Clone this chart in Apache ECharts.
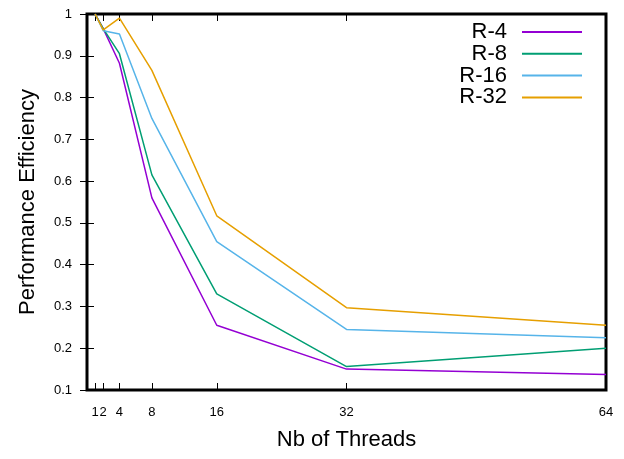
<!DOCTYPE html>
<html>
<head>
<meta charset="utf-8">
<script src="https://cdn.jsdelivr.net/npm/echarts@6/dist/echarts.min.js"></script>
<style>
  html, body { margin: 0; background: #fff; }
  #chart { width: 624px; height: 459px; }
</style>
</head>
<body>
<div id="chart"></div>
<script>
// data
const threads = [1, 2, 4, 8, 16, 32, 64]
const names = ['R-4', 'R-8', 'R-16', 'R-32']
const r4 = [1.0, 0.965, 0.882, 0.56, 0.255, 0.15, 0.137]
const r8 = [1.0, 0.965, 0.905, 0.615, 0.33, 0.156, 0.20]
const r16 = [1.0, 0.96, 0.952, 0.75, 0.455, 0.245, 0.225]
const r32 = [1.0, 0.962, 0.99, 0.865, 0.517, 0.297, 0.255]
const colors = ['#9400d3', '#009e73', '#56b4e9', '#e69f00']

const font = 'Liberation Sans, Arial, sans-serif'
const chart = echarts.init(document.getElementById('chart'))

const allSeries = [r4, r8, r16, r32]

const xCommon = {
  type: 'value',
  min: 0,
  max: 64,
  axisLine: { show: false },
  splitLine: { show: false },
  axisTick: { inside: true, length: 7, customValues: threads, lineStyle: { color: '#000', width: 1 } }
}
const yCommon = {
  type: 'value',
  min: 0.1,
  max: 1,
  interval: 0.1,
  axisLine: { show: false },
  splitLine: { show: false },
  axisTick: { inside: true, length: 7, lineStyle: { color: '#000', width: 1 } }
}

chart.setOption({
  animation: false,
  grid: {
    left: 87, right: 18, top: 14, bottom: 69,
    show: true, borderColor: '#000', borderWidth: 3, backgroundColor: 'transparent'
  },
  xAxis: [
    {
      ...xCommon,
      position: 'bottom',
      name: 'Nb of Threads',
      nameLocation: 'middle',
      nameGap: 39,
      nameTextStyle: { fontFamily: font, fontSize: 22, color: '#000' },
      axisLabel: { customValues: threads, margin: 16, fontFamily: font, fontSize: 13, color: '#000' }
    },
    { ...xCommon, position: 'top', axisLabel: { show: false } }
  ],
  yAxis: [
    {
      ...yCommon,
      position: 'left',
      name: 'Performance Efficiency',
      nameLocation: 'middle',
      nameGap: 48,
      nameTextStyle: { fontFamily: font, fontSize: 22, color: '#000' },
      axisLabel: { margin: 15, fontFamily: font, fontSize: 13, color: '#000' }
    },
    { ...yCommon, position: 'right', axisLabel: { show: false } }
  ],
  legend: names.map((n, i) => ({
    data: [n],
    orient: 'vertical',
    right: 37,
    top: 16 + i * 21.8,
    align: 'right',
    icon: 'rect',
    itemWidth: 60,
    itemHeight: 2,
    selectedMode: false,
    textStyle: { fontFamily: font, fontSize: 22, color: '#000', padding: [0, 10, 0, 0] }
  })),
  series: names.map((n, i) => ({
    name: n,
    type: 'line',
    showSymbol: false,
    color: colors[i],
    lineStyle: { width: 1.5 },
    data: threads.map((t, j) => [t, allSeries[i][j]])
  }))
})
</script>
</body>
</html>
